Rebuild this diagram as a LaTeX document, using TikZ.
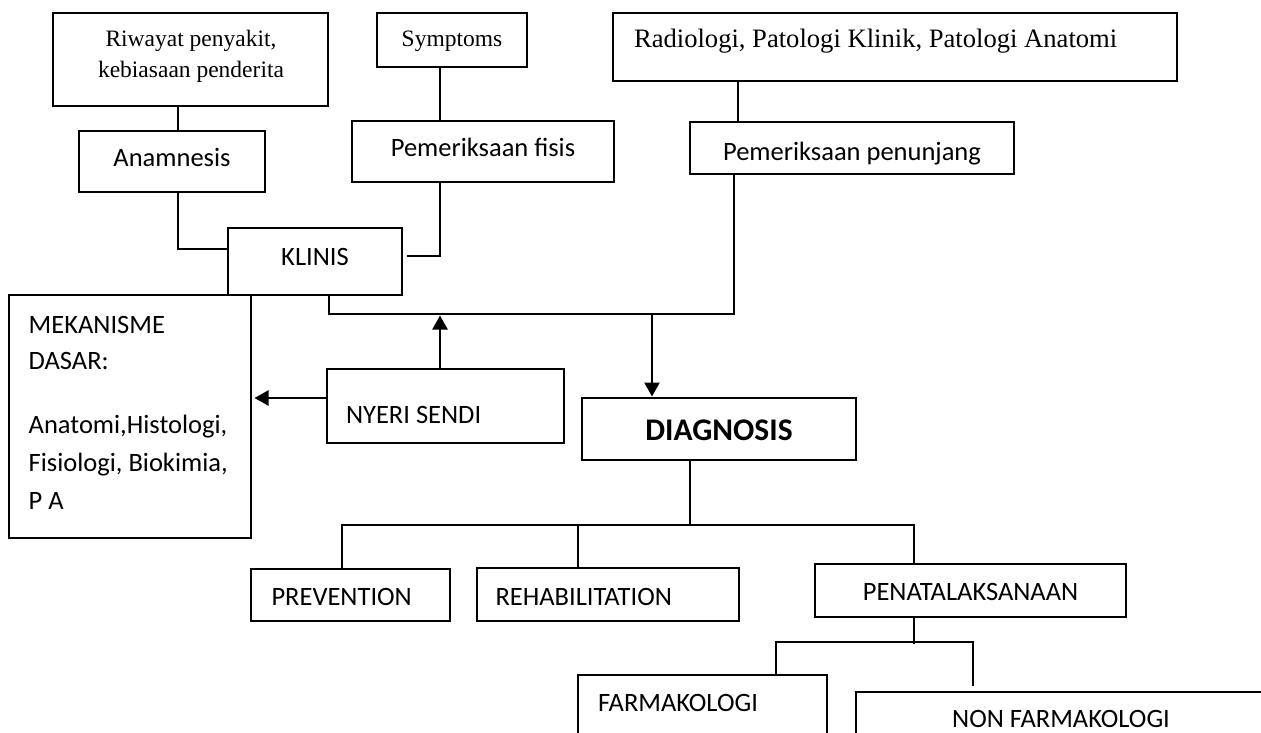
\documentclass[tikz,border=0pt]{standalone}
\usepackage{fontspec}
\newfontfamily\calfont{Carlito}
\newfontfamily\timesfont{Liberation Serif}
\usetikzlibrary{arrows.meta}
\tikzset{
  bx/.style={draw, line width=2pt, inner sep=0pt, font=\calfont\fontsize{26.5}{30}\selectfont},
  tx/.style={inner sep=0pt, font=\calfont\fontsize{26.5}{30}\selectfont},
  ln/.style={line width=2pt},
  arr/.style={line width=2.3pt, -{Triangle[length=14pt,width=15pt]}},
}
\begin{document}
\begin{tikzpicture}[x=1pt,y=-1pt]
\useasboundingbox (0,0) rectangle (1261,732);
\clip (0,0) rectangle (1261,732);
% top row
\node[bx, minimum width=275pt, minimum height=93pt] (riw) at (190.5,59.5) {};
\node[tx, anchor=base, font=\timesfont\fontsize{23.5}{28}\selectfont] (riwA) at (191,46.7) {Riwayat penyakit,};
\node[tx, anchor=base, font=\timesfont\fontsize{23.5}{28}\selectfont] (riwB) at (191,77.5) {kebiasaan penderita};
\node[bx, minimum width=150pt, minimum height=54pt, text height=26.7pt, text depth=13.3pt,
      font=\timesfont\fontsize{23.5}{28}\selectfont] (sym) at (452,40) {Symptoms};
\node[bx, minimum width=564pt, minimum height=68pt, inner xsep=21pt, text width=522pt, align=flush left,
      text height=20.7pt, text depth=19.3pt, font=\timesfont\fontsize{26.6}{32}\selectfont] (rad) at (895,47)
      {Radiologi, Patologi Klinik, Patologi Anatomi};
% second row
\node[bx, minimum width=186pt, minimum height=61pt, text height=25.2pt, text depth=14.8pt] (ana) at (172,161.5) {Anamnesis};
\node[bx, minimum width=262pt, minimum height=61pt, text height=25.2pt, text depth=14.8pt] (fis) at (483,151.5) {Pemeriksaan fisis};
\node[bx, minimum width=324pt, minimum height=52pt, text height=32pt, text depth=8pt] (pen) at (852,148) {Pemeriksaan penunjang};
\node[bx, minimum width=174pt, minimum height=67pt, text height=23.5pt, text depth=16.5pt] (kli) at (315,261.5) {KLINIS};
% mekanisme
\node[bx, minimum width=242pt, minimum height=243pt] (mek) at (130,416.5) {};
\node[tx, anchor=base west] (mekA) at (28.5,333) {MEKANISME};
\node[tx, anchor=base west] (mekB) at (28.5,369) {DASAR:};
\node[tx, anchor=base west] (mekC) at (28.5,433.5) {Anatomi,Histologi,};
\node[tx, anchor=base west] (mekD) at (28.5,471) {Fisiologi, Biokimia,};
\node[tx, anchor=base west] (mekE) at (28.5,509) {P A};
% nyeri / diagnosis
\node[bx, minimum width=237pt, minimum height=74pt, inner xsep=19pt, text width=199pt, align=flush left,
      text height=37.3pt, text depth=2.7pt] (nye) at (445.5,406) {NYERI SENDI};
\node[bx, minimum width=274pt, minimum height=62pt, text height=31pt, text depth=9pt,
      font=\calfont\bfseries\fontsize{31.5}{36}\selectfont] (dia) at (719,429) {DIAGNOSIS};
% bottom rows
\node[bx, minimum width=199pt, minimum height=52pt, inner xsep=20.5pt, text width=158pt, align=flush left,
      text height=30pt, text depth=10pt] (prv) at (350.5,595) {PREVENTION};
\node[bx, minimum width=262pt, minimum height=53pt, inner xsep=18.5pt, text width=225pt, align=flush left,
      text height=30.5pt, text depth=9.5pt] (reh) at (608,594.5) {REHABILITATION};
\node[bx, minimum width=311pt, minimum height=53pt, text height=30.2pt, text depth=9.8pt] (pnt) at (970.5,590.5) {PENATALAKSANAAN};
\node[bx, minimum width=249pt, minimum height=70pt, inner xsep=20pt, text width=209pt, align=flush left,
      text height=17pt, text depth=15pt] (frm) at (702.5,710) {FARMAKOLOGI};
\node[bx, minimum width=410pt, minimum height=56pt] (nfr) at (1061,720) {};
\node[tx, anchor=base] (nfrT) at (1061,727.5) {NON FARMAKOLOGI};
% connectors
\draw[ln] ([xshift=-12.5pt]riw.south) -- ([xshift=6pt]ana.north);
\draw[ln] ([xshift=-12pt]sym.south) -- ([xshift=-43pt]fis.north);
\draw[ln] ([xshift=-157pt]rad.south) -- ([xshift=-114pt]pen.north);
\draw[ln] ([xshift=6pt]ana.south) |- ([yshift=12.5pt]kli.west);
\draw[ln] ([xshift=-43pt]fis.south) |- ([xshift=4pt,yshift=5.5pt]kli.east);
\coordinate (jr) at (734,314);
\draw[ln] ([xshift=14pt]kli.south) |- (jr) -- ([xshift=-118pt]pen.south);
\coordinate (jd) at (652,314);
\draw[arr] (jd) -- ([xshift=-67pt,yshift=0.5pt]dia.north);
\coordinate (ju) at (440,315.5);
\draw[arr] ([xshift=-5.5pt]nye.north) -- (ju);
\coordinate (nyl) at ([yshift=8pt]nye.west);
\coordinate (mkr) at ([xshift=2.5pt]mek.east);
\draw[arr] (nyl) -- (nyl -| mkr);
\coordinate (bd) at (690,526);
\draw[ln] ([xshift=-29pt]dia.south) -- (bd);
\draw[ln] ([xshift=-8.5pt]prv.north) -- ++(0,-43) -| ([xshift=-56.5pt]pnt.north);
\draw[ln] ([xshift=-30pt]reh.north) -- ++(0,-42);
\draw[ln] ([xshift=-56.5pt]pnt.south) -- ++(0,26);
\draw[ln] ([xshift=73.5pt]frm.north) -- ++(0,-32) -| ([xshift=-88pt,yshift=5pt]nfr.north);
\end{tikzpicture}
\end{document}
